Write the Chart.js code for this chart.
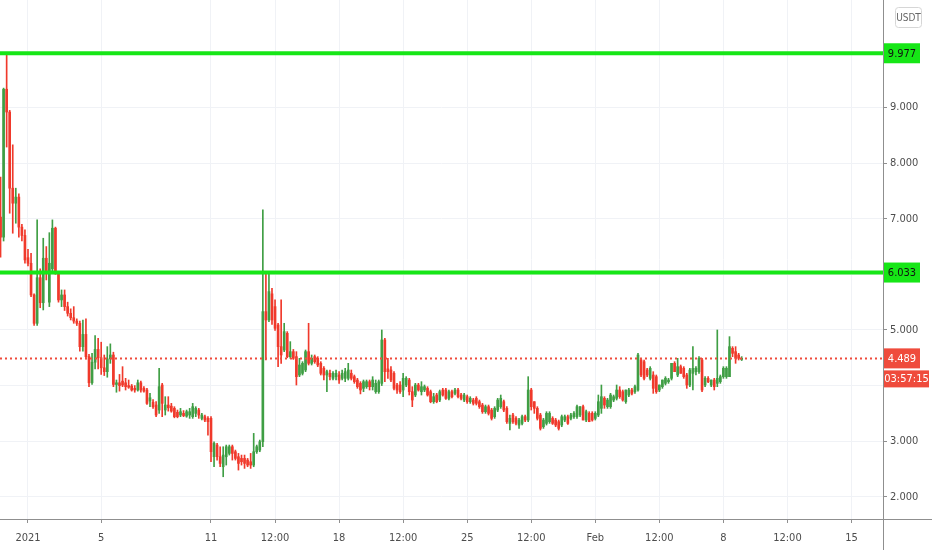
<!DOCTYPE html>
<html>
<head>
<meta charset="utf-8">
<script src="https://cdn.jsdelivr.net/npm/chart.js@4.4.1/dist/chart.umd.min.js"></script>
<style>
  html, body { margin: 0; padding: 0; background: #fff; }
  #wrap { width: 932px; height: 550px; }
</style>
</head>
<body>
<div id="wrap"><canvas id="chart" width="932" height="550"></canvas></div>
<script>
// 4h candles, bar 0 = Jan 1 2021 00:00
const FIRST_BAR = -9;

const opens = [
  7.03, 6.67, 9.33, 8.92, 7.55, 7.28, 7.39, 6.85, 6.70, 6.30,
  6.20, 5.63, 5.12, 5.94, 5.49, 6.29, 5.50, 6.10, 6.83, 6.03,
  5.54, 5.63, 5.42, 5.30, 5.22, 5.16, 5.12, 4.70, 4.92, 4.52,
  4.05, 4.42, 4.65, 4.50, 4.32, 4.25, 4.48, 4.55, 4.02, 4.05,
  4.08, 4.05, 4.00, 3.99, 3.95, 3.92, 4.05, 3.95, 3.92, 3.72,
  3.70, 3.65, 3.56, 4.01, 3.56, 3.65, 3.63, 3.59, 3.52, 3.47,
  3.50, 3.45, 3.47, 3.44, 3.50, 3.56, 3.41, 3.44, 3.41, 3.41,
  2.72, 2.93, 2.72, 2.54, 2.72, 2.78, 2.90, 2.81, 2.72, 2.69,
  2.69, 2.66, 2.63, 2.57, 2.81, 2.84, 2.99, 5.33, 5.18, 5.65,
  5.42, 5.09, 4.70, 4.64, 4.94, 4.52, 4.61, 4.52, 4.19, 4.22,
  4.28, 4.61, 4.40, 4.52, 4.49, 4.40, 4.31, 4.19, 4.22, 4.13,
  4.16, 4.19, 4.13, 4.13, 4.13, 4.22, 4.16, 4.10, 4.04, 3.95,
  3.98, 4.07, 3.98, 3.89, 3.89, 4.04, 4.82, 4.30, 4.28, 4.22,
  4.01, 4.01, 3.92, 4.01, 4.10, 3.89, 3.83, 4.01, 3.89, 3.92,
  3.95, 3.89, 3.71, 3.83, 3.74, 3.92, 3.92, 3.77, 3.89, 3.86,
  3.92, 3.83, 3.74, 3.80, 3.71, 3.74, 3.77, 3.71, 3.65, 3.53,
  3.62, 3.56, 3.44, 3.56, 3.62, 3.71, 3.59, 3.32, 3.47, 3.41,
  3.29, 3.32, 3.44, 3.38, 3.92, 3.71, 3.59, 3.47, 3.26, 3.32,
  3.35, 3.41, 3.38, 3.35, 3.29, 3.38, 3.44, 3.41, 3.44, 3.44,
  3.47, 3.62, 3.38, 3.50, 3.50, 3.41, 3.47, 3.59, 3.77, 3.62,
  3.62, 3.74, 3.77, 3.92, 3.89, 3.71, 3.83, 3.92, 3.89, 3.92,
  4.46, 4.43, 4.28, 4.13, 4.19, 4.16, 3.92, 3.98, 4.04, 4.07,
  4.13, 4.40, 4.19, 4.34, 4.31, 4.19, 4.01, 4.22, 4.25, 4.25,
  4.46, 4.01, 4.13, 4.01, 4.10, 4.04, 4.07, 4.16, 4.16, 4.16,
  4.67, 4.61, 4.55, 4.47
];
const highs = [
  7.75, 9.35, 9.95, 8.95, 8.33, 7.55, 7.45, 6.90, 6.80, 6.45,
  6.38, 5.65, 6.98, 6.10, 6.65, 6.50, 6.75, 6.98, 6.85, 6.05,
  5.72, 5.72, 5.50, 5.38, 5.42, 5.20, 5.16, 5.18, 5.20, 4.56,
  4.58, 4.90, 4.85, 4.78, 4.55, 4.70, 4.75, 4.60, 4.10, 4.20,
  4.34, 4.13, 4.10, 4.02, 4.00, 4.10, 4.08, 3.98, 3.95, 3.86,
  3.75, 3.71, 4.31, 4.04, 3.80, 3.80, 3.68, 3.62, 3.56, 3.59,
  3.55, 3.56, 3.59, 3.68, 3.62, 3.59, 3.50, 3.47, 3.44, 3.44,
  2.99, 2.96, 2.90, 2.90, 2.93, 2.93, 2.93, 2.84, 2.78, 2.75,
  2.75, 2.69, 2.78, 3.14, 2.93, 3.02, 7.16, 6.05, 6.02, 5.75,
  5.54, 5.12, 5.54, 5.12, 4.97, 4.79, 4.65, 4.61, 4.49, 4.43,
  4.64, 5.12, 4.55, 4.55, 4.52, 4.43, 4.34, 4.28, 4.28, 4.25,
  4.28, 4.25, 4.28, 4.31, 4.40, 4.28, 4.19, 4.13, 4.07, 4.10,
  4.10, 4.10, 4.16, 4.10, 4.10, 5.00, 4.85, 4.49, 4.34, 4.25,
  4.04, 4.07, 4.22, 4.16, 4.13, 3.98, 4.04, 4.04, 4.07, 4.01,
  3.98, 3.92, 3.86, 3.86, 3.92, 3.95, 3.95, 3.92, 3.92, 3.95,
  3.95, 3.86, 3.86, 3.83, 3.80, 3.77, 3.80, 3.74, 3.68, 3.65,
  3.65, 3.59, 3.62, 3.77, 3.83, 3.74, 3.62, 3.47, 3.50, 3.44,
  3.41, 3.47, 3.47, 4.16, 3.95, 3.71, 3.62, 3.50, 3.41, 3.53,
  3.53, 3.44, 3.41, 3.38, 3.47, 3.47, 3.47, 3.50, 3.53, 3.65,
  3.62, 3.65, 3.56, 3.53, 3.53, 3.53, 3.83, 4.01, 3.80, 3.77,
  3.86, 3.83, 4.01, 3.98, 3.92, 3.92, 3.95, 3.95, 4.01, 4.58,
  4.49, 4.46, 4.31, 4.34, 4.25, 4.19, 4.01, 4.10, 4.16, 4.13,
  4.40, 4.43, 4.49, 4.37, 4.34, 4.22, 4.31, 4.70, 4.34, 4.52,
  4.49, 4.16, 4.16, 4.10, 4.13, 5.00, 4.19, 4.34, 4.34, 4.88,
  4.70, 4.70, 4.58, 4.52
];
const lows = [
  6.31, 6.60, 8.29, 7.10, 6.74, 6.92, 6.67, 6.60, 6.20, 6.15,
  5.60, 5.08, 5.08, 5.40, 5.36, 5.90, 5.42, 6.05, 6.00, 5.50,
  5.42, 5.35, 5.25, 5.18, 5.12, 5.08, 4.62, 4.62, 4.48, 3.98,
  4.02, 4.30, 4.30, 4.20, 4.18, 4.15, 4.40, 3.98, 3.88, 3.90,
  3.98, 3.92, 3.95, 3.90, 3.88, 3.90, 3.88, 3.88, 3.66, 3.62,
  3.59, 3.44, 3.50, 3.44, 3.47, 3.54, 3.52, 3.42, 3.42, 3.44,
  3.44, 3.43, 3.41, 3.41, 3.44, 3.41, 3.38, 3.35, 3.11, 2.63,
  2.54, 2.66, 2.54, 2.36, 2.57, 2.75, 2.66, 2.66, 2.48, 2.57,
  2.51, 2.54, 2.51, 2.54, 2.78, 2.81, 2.90, 4.46, 5.15, 5.10,
  4.99, 4.34, 4.40, 4.61, 4.50, 4.49, 4.47, 4.01, 4.16, 4.19,
  4.25, 4.37, 4.37, 4.40, 4.34, 4.19, 4.10, 3.89, 4.10, 4.10,
  4.10, 4.04, 4.10, 4.07, 4.10, 4.10, 4.04, 3.95, 3.85, 3.89,
  3.95, 3.92, 3.92, 3.86, 3.86, 4.00, 4.07, 4.13, 4.07, 3.92,
  3.86, 3.86, 3.80, 3.98, 3.83, 3.62, 3.80, 3.90, 3.83, 3.89,
  3.81, 3.69, 3.68, 3.69, 3.71, 3.81, 3.75, 3.74, 3.78, 3.83,
  3.78, 3.74, 3.71, 3.68, 3.68, 3.65, 3.65, 3.59, 3.50, 3.50,
  3.47, 3.38, 3.41, 3.53, 3.59, 3.53, 3.32, 3.20, 3.32, 3.29,
  3.23, 3.29, 3.35, 3.35, 3.56, 3.50, 3.38, 3.20, 3.23, 3.29,
  3.32, 3.30, 3.26, 3.20, 3.26, 3.35, 3.30, 3.38, 3.41, 3.41,
  3.44, 3.38, 3.35, 3.35, 3.36, 3.38, 3.44, 3.50, 3.59, 3.59,
  3.59, 3.71, 3.74, 3.77, 3.72, 3.68, 3.80, 3.83, 3.86, 3.90,
  4.16, 4.10, 4.16, 4.10, 3.86, 3.86, 3.89, 3.95, 4.01, 4.04,
  4.10, 4.25, 4.16, 4.22, 4.13, 3.95, 3.98, 3.92, 4.19, 4.22,
  3.89, 3.98, 4.05, 3.98, 3.92, 3.98, 4.04, 4.13, 4.13, 4.16,
  4.52, 4.40, 4.46, 4.45
];
const closes = [
  6.67, 9.33, 8.92, 7.55, 7.28, 7.39, 6.85, 6.70, 6.26, 6.20,
  5.63, 5.12, 5.94, 5.49, 6.29, 6.05, 6.20, 6.83, 6.03, 5.54,
  5.63, 5.42, 5.30, 5.22, 5.16, 5.12, 4.70, 4.92, 4.52, 4.05,
  4.42, 4.65, 4.50, 4.32, 4.25, 4.48, 4.55, 4.02, 4.05, 4.00,
  4.01, 3.98, 3.97, 3.92, 3.92, 4.05, 3.92, 3.90, 3.68, 3.78,
  3.62, 3.47, 3.98, 3.68, 3.65, 3.60, 3.54, 3.44, 3.44, 3.53,
  3.46, 3.53, 3.53, 3.62, 3.59, 3.47, 3.47, 3.38, 3.35, 2.81,
  2.96, 2.72, 2.60, 2.75, 2.90, 2.90, 2.78, 2.69, 2.60, 2.63,
  2.60, 2.57, 2.57, 2.81, 2.90, 2.99, 5.33, 5.18, 5.69, 5.18,
  5.03, 4.70, 4.55, 4.97, 4.52, 4.61, 4.49, 4.16, 4.37, 4.40,
  4.61, 4.40, 4.49, 4.43, 4.37, 4.22, 4.19, 4.25, 4.16, 4.22,
  4.22, 4.10, 4.22, 4.25, 4.28, 4.13, 4.07, 3.98, 3.92, 4.07,
  4.07, 3.98, 4.10, 4.04, 4.07, 4.82, 4.25, 4.25, 4.10, 3.95,
  3.92, 3.89, 4.13, 4.13, 3.89, 3.74, 4.01, 3.92, 3.98, 3.98,
  3.83, 3.71, 3.80, 3.71, 3.89, 3.83, 3.77, 3.89, 3.80, 3.92,
  3.80, 3.77, 3.83, 3.71, 3.77, 3.68, 3.68, 3.62, 3.53, 3.62,
  3.50, 3.41, 3.59, 3.74, 3.77, 3.56, 3.35, 3.41, 3.35, 3.32,
  3.38, 3.44, 3.38, 3.92, 3.62, 3.59, 3.41, 3.23, 3.38, 3.50,
  3.50, 3.32, 3.29, 3.23, 3.44, 3.44, 3.32, 3.47, 3.50, 3.62,
  3.62, 3.38, 3.53, 3.35, 3.38, 3.50, 3.71, 3.80, 3.65, 3.74,
  3.83, 3.80, 3.92, 3.80, 3.74, 3.92, 3.92, 3.86, 3.98, 4.55,
  4.19, 4.13, 4.19, 4.31, 3.95, 3.89, 4.01, 4.10, 4.13, 4.10,
  4.40, 4.25, 4.34, 4.22, 4.16, 4.01, 4.28, 4.31, 4.31, 4.49,
  3.92, 4.13, 4.07, 4.10, 3.98, 4.13, 4.16, 4.31, 4.31, 4.70,
  4.58, 4.49, 4.49, 4.489
];

// time axis: bar positions of the labels
const xTickPos = [0, 24, 60, 81, 102, 123, 144, 165, 186, 207, 228, 249, 270];
const xTickLabels = ['2021', '5', '11', '12:00', '18', '12:00', '25', '12:00', 'Feb', '12:00', '8', '12:00', '15'];
const priceTicks = [2, 3, 4, 5, 6, 7, 8, 9];

const levels = [9.977, 6.033];
const lastPrice = 4.489;
const countdown = '03:57:15';
const currency = 'USDT';

const X_MIN = -9.18, X_MAX = 280.33;
const Y_MIN = 1.60, Y_MAX = 10.935;

const UP = '#3f9e44';
const DOWN = '#f0392b';
const LEVEL = '#16e616';

const colors = closes.map((c, k) => (c >= opens[k] ? UP : DOWN));
const wickData = opens.map((o, k) => ({ x: FIRST_BAR + k, y: [lows[k], highs[k]] }));
const bodyData = opens.map((o, k) => ({ x: FIRST_BAR + k, y: [o, closes[k]] }));

const FONT = "'Liberation Sans Narrow', 'DejaVu Sans Condensed', 'Liberation Sans', sans-serif";
Chart.defaults.font.family = FONT;
Chart.defaults.font.size = 11;
Chart.defaults.color = '#4d4d4d';

const noPad = s => {
  s.paddingTop = 0; s.paddingBottom = 0; s.paddingLeft = 0; s.paddingRight = 0;
};

// price labels that sit under the last-price tags are not shown
const hiddenByTag = v => v > lastPrice - 0.56 && v < lastPrice + 0.2;

const overlay = {
  id: 'overlay',
  afterDraw(chart) {
    const ctx = chart.ctx;
    const area = chart.chartArea;
    const ys = chart.scales.y;
    const W = chart.width, H = chart.height;
    ctx.save();

    // axis lines
    ctx.strokeStyle = '#8f8f8f';
    ctx.lineWidth = 1;
    ctx.beginPath();
    ctx.moveTo(0, Math.round(area.bottom) + 0.5);
    ctx.lineTo(W, Math.round(area.bottom) + 0.5);
    ctx.moveTo(Math.round(area.right) + 0.5, 0);
    ctx.lineTo(Math.round(area.right) + 0.5, H);
    ctx.stroke();

    ctx.font = '11px ' + FONT;
    ctx.textAlign = 'center';
    ctx.textBaseline = 'middle';
    const bx = Math.round(area.right) + 1;

    // level tags
    levels.forEach(v => {
      const y = ys.getPixelForValue(v);
      ctx.fillStyle = LEVEL;
      ctx.fillRect(bx, y - 10, 36, 20);
      ctx.fillStyle = '#111';
      ctx.fillText(v.toFixed(3), bx + 18, y + 0.5);
    });

    // last price tag + countdown
    const py = ys.getPixelForValue(lastPrice);
    ctx.fillStyle = '#ef4b3c';
    ctx.fillRect(bx, py - 10, 36, 20);
    ctx.fillRect(bx, py + 12, 45, 17);
    ctx.fillStyle = '#fff';
    ctx.fillText(lastPrice.toFixed(3), bx + 18, py + 0.5);
    ctx.fillText(countdown, bx + 22.5, py + 20.5);

    // currency badge
    ctx.strokeStyle = '#d6d6d6';
    ctx.fillStyle = '#fff';
    ctx.beginPath();
    ctx.roundRect(895.5, 7.5, 26, 20, 3);
    ctx.fill();
    ctx.stroke();
    ctx.fillStyle = '#666';
    ctx.font = '10px ' + FONT;
    ctx.fillText(currency, 908.5, 18);
    ctx.restore();
  }
};

new Chart(document.getElementById('chart'), {
  type: 'bar',
  data: {
    datasets: [
      {
        type: 'line',
        data: [{ x: X_MIN, y: levels[0] }, { x: X_MAX, y: levels[0] }],
        borderColor: LEVEL, borderWidth: 4, pointRadius: 0, order: 1
      },
      {
        type: 'line',
        data: [{ x: X_MIN, y: levels[1] }, { x: X_MAX, y: levels[1] }],
        borderColor: LEVEL, borderWidth: 4, pointRadius: 0, order: 1
      },
      {
        type: 'line',
        data: [{ x: X_MIN, y: lastPrice }, { x: X_MAX, y: lastPrice }],
        borderColor: '#ef4b3c', borderWidth: 2, borderDash: [2, 3], pointRadius: 0, order: 1
      },
      {
        data: wickData,
        backgroundColor: colors,
        barThickness: 1,
        grouped: false,
        order: 3
      },
      {
        data: bodyData,
        backgroundColor: colors,
        barThickness: 2,
        minBarLength: 1,
        grouped: false,
        order: 2
      }
    ]
  },
  options: {
    responsive: false,
    animation: false,
    devicePixelRatio: 1,
    layout: { padding: 0 },
    plugins: { legend: { display: false }, tooltip: { enabled: false } },
    scales: {
      x: {
        type: 'linear',
        offset: false,
        min: X_MIN,
        max: X_MAX,
        afterBuildTicks: s => { s.ticks = xTickPos.map(v => ({ value: v })); },
        afterFit: s => { s.height = 31; noPad(s); },
        ticks: {
          autoSkip: false,
          maxRotation: 0,
          padding: 9,
          callback: v => xTickLabels[xTickPos.indexOf(v)]
        },
        grid: { offset: false, color: '#f0f2f6', tickColor: '#8f8f8f', tickLength: 4 },
        border: { display: false }
      },
      y: {
        type: 'linear',
        position: 'right',
        min: Y_MIN,
        max: Y_MAX,
        afterBuildTicks: s => { s.ticks = priceTicks.map(v => ({ value: v })); },
        afterFit: s => { s.width = 49; noPad(s); },
        ticks: {
          padding: 3,
          callback: v => (hiddenByTag(v) ? '' : v.toFixed(3))
        },
        grid: { color: '#f0f2f6', tickColor: '#8f8f8f', tickLength: 4 },
        border: { display: false }
      }
    }
  },
  plugins: [overlay]
});
</script>
</body>
</html>
